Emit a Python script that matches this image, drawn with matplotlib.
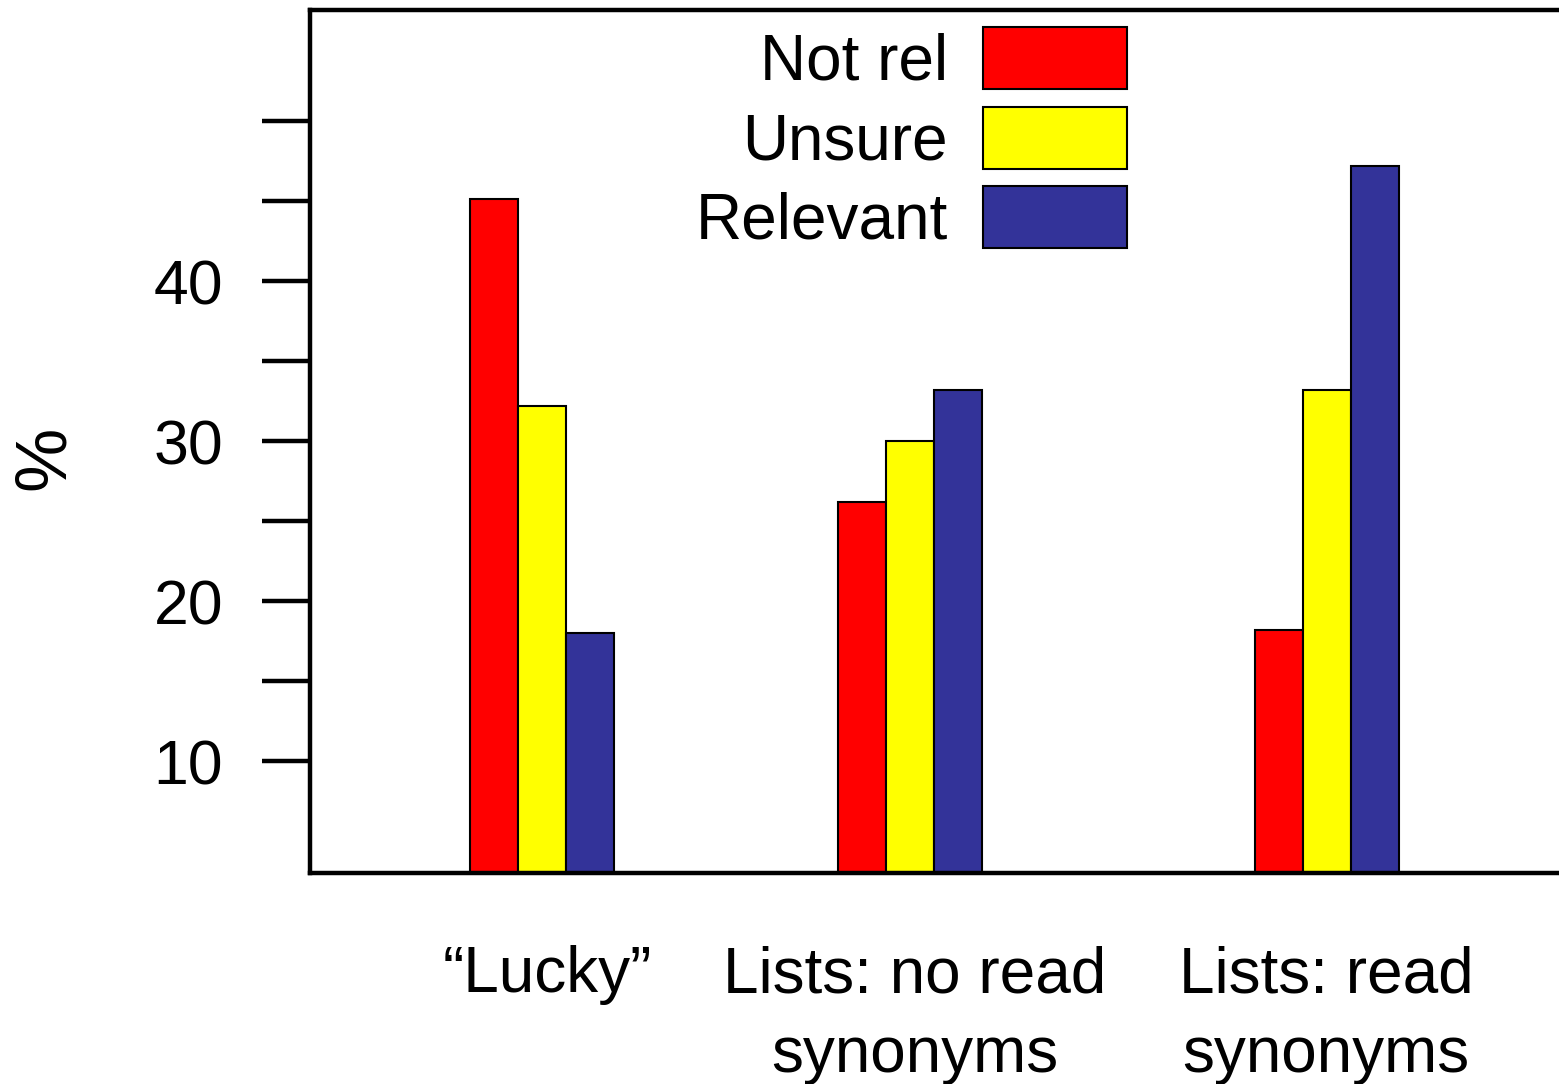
import numpy as np
import matplotlib.pyplot as plt

plt.rcParams['font.family'] = ['Liberation Sans', 'DejaVu Sans']

categories = ['\u201cLucky\u201d', 'Lists: no read\nsynonyms', 'Lists: read\nsynonyms']
series_names = ['Not rel', 'Unsure', 'Relevant']
not_rel = [45.1, 26.2, 18.2]
unsure = [32.2, 30.0, 33.2]
relevant = [18.0, 33.2, 47.2]
series = [not_rel, unsure, relevant]
colors = ['#ff0000', '#ffff00', '#333399']

# group centres (uneven spacing as in the original), bar width
group_x = np.array([2.32, 6.00, 10.165])
label_x = np.array([2.37, 6.05, 10.16])
width = 0.48

W, H = 1559, 1084
fig = plt.figure(figsize=(W / 100, H / 100), dpi=100)
ax = fig.add_axes([310 / W, 1 - 873 / H, 1296 / W, 863 / H])

for i, (vals, name, col) in enumerate(zip(series, series_names, colors)):
    ax.bar(group_x + (i - 1) * width, vals, width, color=col,
           edgecolor='black', linewidth=1.5, label=name, zorder=2)

ax.set_xlim(0, 12.96)
ax.set_ylim(3, 56.94)

for s in ax.spines.values():
    s.set_linewidth(3.2)
ax.spines['right'].set_visible(False)

ax.set_yticks([10, 20, 30, 40])
ax.set_yticks([15, 25, 35, 45, 50], minor=True)
ax.tick_params(axis='y', which='both', direction='out', length=34.5, width=3.2,
               labelsize=45, pad=28)
ax.set_xticks(label_x)
ax.set_xticklabels(categories, linespacing=1.42)
ax.tick_params(axis='x', length=0, labelsize=46, pad=52)

fig.text(45 / W, 1 - 458 / H, '%', rotation=90, fontsize=52,
         ha='center', va='center')

ax.legend(loc='upper right', bbox_to_anchor=(1127 / W, 1 - 27 / H),
          bbox_transform=fig.transFigure, frameon=False, markerfirst=False,
          fontsize=46, handlelength=2.25, handleheight=1.12,
          handletextpad=0.55, labelspacing=0.215, borderpad=0, borderaxespad=0)

fig.savefig('out.png', dpi=100)
